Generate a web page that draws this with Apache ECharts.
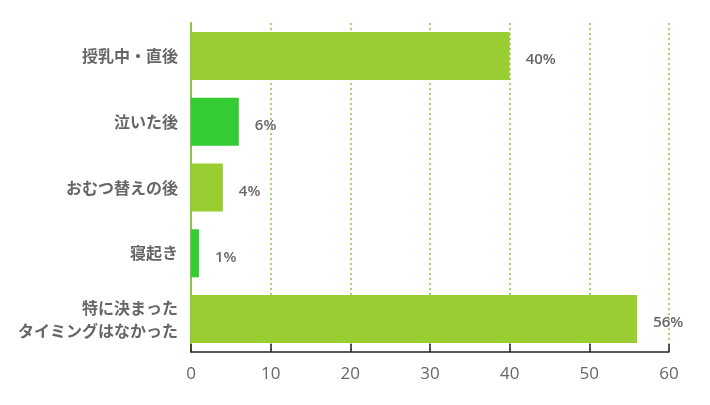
<!DOCTYPE html>
<html><head><meta charset="utf-8">
<script src="https://cdn.jsdelivr.net/npm/echarts@6/dist/echarts.min.js"></script>
<style>html,body{margin:0;padding:0;background:#fff}#c{width:710px;height:405px}</style>
</head><body><div id="c"></div>
<script>
const categories = ['授乳中・直後', '泣いた後', 'おむつ替えの後', '寝起き', '特に決まった\nタイミングはなかった'];
const values = [40, 6, 4, 1, 56];
const barColors = ['#9ACD32', '#33CC33', '#9ACD32', '#33CC33', '#9ACD32'];
const xTicks = { min: 0, max: 60, interval: 10 };

const chart = echarts.init(document.getElementById('c'));
chart.setOption({
  animation: false,
  grid: { left: 191, right: 41, top: 23, bottom: 53, containLabel: false },
  xAxis: {
    type: 'value', min: xTicks.min, max: xTicks.max, interval: xTicks.interval,
    axisLine: { show: true, lineStyle: { color: '#222', width: 1.5 } },
    axisTick: { show: true, inside: true, length: 8, lineStyle: { color: '#222', width: 1.5 } },
    axisLabel: { color: '#666', fontSize: 17, margin: 14, fontFamily: 'Open Sans, sans-serif' },
    splitLine: { show: true, lineStyle: { color: '#8CC63F', type: [2, 3], width: 1.5 } }
  },
  yAxis: {
    type: 'category', data: categories, inverse: true,
    axisLine: { show: true, onZero: false, lineStyle: { color: '#8CC63F', width: 2 } },
    axisTick: { show: false },
    axisLabel: { color: '#666', fontSize: 16, fontWeight: 'bold', margin: 13, align: 'right', lineHeight: 23,
      fontFamily: 'Noto Sans CJK JP, sans-serif' }
  },
  series: [{
    type: 'bar', barWidth: '73%',
    data: values.map((v, i) => ({ value: v, itemStyle: { color: barColors[i] } })),
    label: { show: true, position: 'right', distance: 16, offset: [0, 4], formatter: '{c}%',
      color: '#666', fontSize: 15, fontWeight: 600, fontFamily: 'Open Sans, sans-serif' }
  }]
});
</script></body></html>
